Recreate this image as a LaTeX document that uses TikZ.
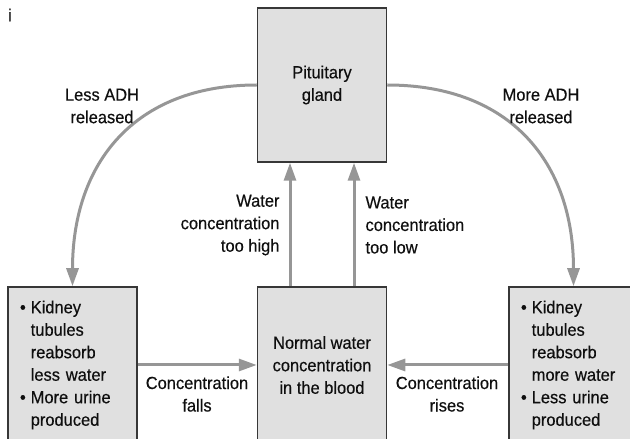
\documentclass[tikz,border=0pt]{standalone}
\usepackage{fontspec}
\setmainfont[FakeStretch=0.94,FakeBold=0.4]{Liberation Sans}
\usetikzlibrary{arrows.meta}
\definecolor{boxfill}{RGB}{224,224,224}
\definecolor{boxline}{RGB}{55,55,55}
\definecolor{flowgray}{RGB}{150,150,150}
\definecolor{ink}{RGB}{15,15,15}
\newcommand{\bul}{\textbullet}
\begin{document}
\begin{tikzpicture}[x=1pt,y=1pt,
  every node/.style={font=\fontsize{17.5}{22.5}\selectfont, text=ink},
  organ/.style={draw=boxline, line width=1.5pt, fill=boxfill, minimum width=129pt, align=center},
  effect/.style={organ, text width=105pt, inner xsep=12pt, align=left, minimum height=156pt},
  flow/.style={draw=flowgray, line width=3pt, -{Triangle[width=12pt,length=18pt]}}]
\useasboundingbox (0,0) rectangle (630,439);
\clip (0,0) rectangle (630,439);
\node (mark) at (10,424) {i};
% boxes
\node[organ, minimum height=154pt] (pit) at (322,354) {Pituitary\\gland};
\node[organ, minimum height=156pt] (blood) at (322,74) {Normal water\\concentration\\in the blood};
\node[effect] (lessk) at (72.5,74) {\begin{tabular}{@{}l@{\hspace{5pt}}l@{}}
  \bul & Kidney\\ & tubules\\ & reabsorb\\ & less water\\ \bul & More urine\\ & produced\end{tabular}};
\node[effect] (morek) at (573.5,74) {\begin{tabular}{@{}l@{\hspace{5pt}}l@{}}
  \bul & Kidney\\ & tubules\\ & reabsorb\\ & more water\\ \bul & Less urine\\ & produced\end{tabular}};
% feedback arrows
\draw[flow] ([xshift=-32pt]blood.north) -- ([xshift=-32pt]pit.south);
\draw[flow] ([xshift=32pt]blood.north) -- ([xshift=32pt]pit.south);
\draw[flow] (lessk.east) -- (blood.west);
\draw[flow] (morek.west) -- (blood.east);
\draw[flow] (pit.west) to[out=180,in=90,looseness=1.15] (lessk.north);
\draw[flow] (pit.east) to[out=0,in=90,looseness=1.15] (morek.north);
% labels
\node[align=right, anchor=east] (high) at (283,214) {Water\\concentration\\too high};
\node[align=left, anchor=west] (low) at (362,214) {Water\\concentration\\too low};
\node[align=center] (lessadh) at (102,333) {Less ADH\\released};
\node[align=center] (moreadh) at (541,333) {More ADH\\released};
\node[align=center] (falls) at (197,45) {Concentration\\falls};
\node[align=center] (rises) at (447,45) {Concentration\\rises};
\end{tikzpicture}
\end{document}
